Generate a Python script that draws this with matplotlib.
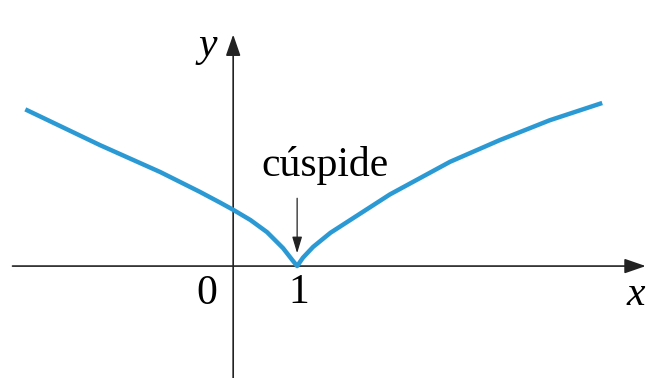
import matplotlib
matplotlib.use("Agg")
import matplotlib.pyplot as plt

# points (x, y in axis units)
curve_x = [-3.25, -2.08, -1.14, -0.52, -0.20, 0.00, 0.27, 0.53, 0.78, 0.92, 1.00,
           1.09, 1.25, 1.52, 1.83, 2.14, 2.45, 3.39, 4.17, 4.95, 5.77]
curve_y = [2.45, 1.89, 1.47, 1.16, 0.99, 0.88, 0.72, 0.53, 0.28, 0.10, 0.00,
           0.13, 0.30, 0.52, 0.72, 0.92, 1.12, 1.63, 1.97, 2.28, 2.55]

tick_pos = [0, 1]
tick_labels = ["0", "1"]
cusp_label = "cúspide"

fig = plt.figure(figsize=(6.48, 3.78), dpi=100)
ax = fig.add_axes([0, 0, 1, 1])
ax.set_xlim(-3.64, 6.48)
ax.set_ylim(-1.75, 4.16)
ax.set_aspect("equal")
ax.axis("off")

serif = "Liberation Serif"

# axes with arrows
ax.annotate("", xy=(6.45, 0), xytext=(-3.45, 0),
            arrowprops=dict(arrowstyle="-|>,head_length=1.3,head_width=0.45",
                            color="#222222", lw=1.2, shrinkA=0, shrinkB=0))
ax.annotate("", xy=(0, 3.62), xytext=(0, -1.75),
            arrowprops=dict(arrowstyle="-|>,head_length=1.3,head_width=0.45",
                            color="#222222", lw=1.2, shrinkA=0, shrinkB=0))

# the curve
ax.plot(curve_x, curve_y, color="#2b9ad4", lw=3.2, solid_joinstyle="round",
        solid_capstyle="butt", zorder=3)

# labels
ax.text(-0.41, -0.43, tick_labels[0], fontsize=30, family=serif,
        ha="center", va="center")
ax.text(1.02, -0.42, tick_labels[1], fontsize=30, family=serif,
        ha="center", va="center")
ax.text(6.3, -0.45, "x", fontsize=30, family=serif, style="italic",
        ha="center", va="center")
ax.text(-0.4, 3.45, "y", fontsize=30, family=serif, style="italic",
        ha="center", va="center")

ax.text(1.43, 1.26, cusp_label, fontsize=30, family=serif,
        ha="center", va="bottom")
ax.annotate("", xy=(tick_pos[1], 0.2), xytext=(tick_pos[1], 1.06),
            arrowprops=dict(arrowstyle="-|>,head_length=1.0,head_width=0.3",
                            color="#222222", lw=0.9, shrinkA=0, shrinkB=0))

fig.savefig("out.png", dpi=100)
